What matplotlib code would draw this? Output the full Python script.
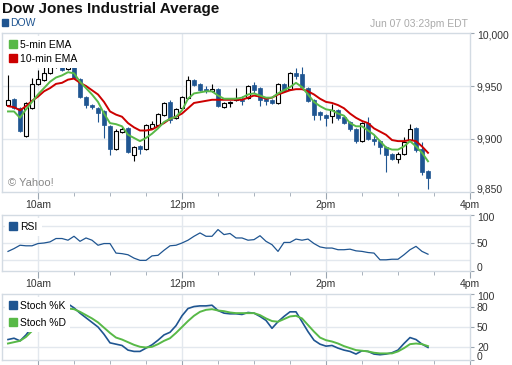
import numpy as np
import pandas as pd
import matplotlib
matplotlib.use("Agg")
import matplotlib.pyplot as plt
import matplotlib.transforms as mtransforms
from matplotlib.patches import Patch

plt.rcParams['font.family'] = ['Liberation Sans', 'DejaVu Sans']

# 5-minute bars, 09:35 .. 15:25
times = pd.date_range("2010-06-07 09:35", "2010-06-07 15:25", freq="5min")

opens = [9932, 9938, 9929, 9903, 9929, 9952, 9956, 9962, 9969, 9971,
         9966, 9970, 9957, 9940, 9932, 9929, 9926, 9912, 9891, 9907,
         9910, 9885, 9893, 9891, 9910, 9913, 9923, 9935, 9920, 9929,
         9939, 9956, 9952, 9947, 9945, 9947, 9930, 9934, 9937, 9937,
         9939, 9951, 9948, 9938, 9937, 9934, 9952, 9947, 9962, 9961,
         9948, 9937, 9925, 9923, 9922, 9927, 9921, 9916, 9909, 9898,
         9915, 9900, 9898, 9892, 9886, 9881, 9886, 9899, 9910, 9891, 9870]
highs = [9960, 9939, 9930, 9935, 9958, 9965, 9970, 9975, 9974, 9972,
         9972, 9971, 9958, 9941, 9933, 9930, 9927, 9913, 9909, 9912,
         9911, 9893, 9894, 9914, 9917, 9925, 9935, 9937, 9929, 9941,
         9959, 9957, 9953, 9950, 9952, 9948, 9935, 9936, 9948, 9941,
         9951, 9954, 9949, 9939, 9938, 9953, 9953, 9963, 9967, 9968,
         9949, 9938, 9926, 9924, 9933, 9928, 9922, 9917, 9910, 9916,
         9921, 9904, 9899, 9893, 9887, 9888, 9902, 9914, 9911, 9897, 9871]
lows = [9931, 9928, 9907, 9902, 9928, 9951, 9955, 9961, 9967, 9964,
        9965, 9957, 9939, 9929, 9928, 9916, 9901, 9885, 9890, 9906,
        9887, 9879, 9886, 9890, 9909, 9912, 9922, 9915, 9919, 9928,
        9938, 9950, 9945, 9943, 9944, 9930, 9929, 9930, 9936, 9932,
        9938, 9943, 9931, 9932, 9933, 9933, 9944, 9946, 9957, 9948,
        9935, 9918, 9918, 9912, 9915, 9918, 9914, 9908, 9896, 9897,
        9899, 9894, 9886, 9869, 9880, 9877, 9885, 9898, 9888, 9866, 9853]
closes = [9937, 9929, 9908, 9934, 9952, 9957, 9962, 9969, 9971, 9965,
          9970, 9958, 9940, 9932, 9930, 9925, 9913, 9891, 9908, 9909,
          9888, 9892, 9891, 9913, 9914, 9924, 9934, 9918, 9928, 9940,
          9956, 9951, 9946, 9945, 9947, 9931, 9934, 9935, 9939, 9936,
          9950, 9946, 9937, 9936, 9934, 9952, 9945, 9962, 9959, 9949,
          9936, 9923, 9923, 9920, 9927, 9920, 9915, 9909, 9898, 9915,
          9900, 9898, 9892, 9885, 9881, 9886, 9897, 9909, 9890, 9869, 9863]

ema5 = [9926, 9926, 9920, 9928, 9935, 9942, 9948, 9954, 9958, 9960,
        9963, 9962, 9954, 9948, 9942, 9935, 9924, 9915, 9914, 9912,
        9904, 9901, 9898, 9901, 9905, 9910, 9916, 9919, 9921, 9927,
        9938, 9943, 9944, 9945, 9945, 9941, 9938, 9938, 9938, 9939,
        9942, 9943, 9941, 9939, 9939, 9943, 9946, 9949, 9953, 9949,
        9942, 9935, 9931, 9928, 9927, 9924, 9922, 9915, 9912, 9912,
        9908, 9904, 9898, 9892, 9890, 9890, 9893, 9898, 9893, 9887, 9879]
ema10 = [9931, 9930, 9927, 9931, 9936, 9940, 9945, 9948, 9952, 9953,
         9956, 9957, 9953, 9950, 9946, 9942, 9935, 9926, 9923, 9921,
         9915, 9911, 9908, 9908, 9909, 9912, 9915, 9919, 9921, 9924,
         9929, 9934, 9935, 9936, 9937, 9937, 9937, 9937, 9937, 9937,
         9939, 9941, 9940, 9938, 9939, 9942, 9944, 9946, 9947, 9947,
         9945, 9942, 9938, 9935, 9934, 9932, 9929, 9924, 9920, 9917,
         9915, 9910, 9907, 9904, 9899, 9898, 9898, 9899, 9898, 9893, 9887]

rsi = [35, 40, 46, 45, 45, 49, 50, 52, 58, 58, 55, 62, 53, 59, 55, 46, 49, 49,
       32, 31, 29, 23, 19, 19, 27, 28, 37, 45, 46, 50, 55, 62, 68, 62, 62, 74,
       65, 67, 59, 59, 55, 56, 63, 53, 47, 35, 51, 51, 57, 55, 57, 49, 43, 41,
       41, 38, 38, 39, 36, 35, 33, 32, 20, 20, 21, 21, 29, 38, 44, 35, 30]

stoch_k = [31, 33, 29, 38, 50, 68, 80, 85, 87, 87, 85, 79, 71, 64, 57, 50, 39, 26,
           24, 22, 15, 13, 13, 18, 23, 30, 38, 42, 52, 67, 78, 81, 82, 82, 83, 75,
           71, 70, 70, 69, 72, 71, 66, 60, 48, 58, 66, 73, 73, 58, 43, 30, 24, 21,
           22, 18, 15, 13, 9, 14, 13, 9, 8, 9, 11, 15, 25, 34, 31, 24, 19]
stoch_d = [25, 27, 29, 35, 44, 48, 59, 68, 74, 78, 78, 77, 73, 68, 63, 57, 49, 41,
           34, 31, 27, 23, 20, 19, 20, 24, 29, 33, 41, 50, 59, 67, 73, 76, 77, 75,
           74, 72, 71, 71, 71, 71, 68, 63, 59, 58, 62, 66, 67, 63, 53, 43, 34, 30,
           28, 25, 21, 18, 15, 14, 13, 11, 10, 10, 10, 13, 18, 24, 25, 24, 21]

tick_pos = [30, 150, 270, 390]
tick_labels = ["10am", "12pm", "2pm", "4pm"]

BLUE = "#1f5591"
RED = "#cc0000"
GREEN = "#58b947"
GRID = "#e3e8ee"
FRAME = "#d3dbe3"
TXT = "#333333"

x = ((times - pd.Timestamp("2010-06-07 09:30")).total_seconds() / 60).values
o, h, l, c = map(np.array, (opens, highs, lows, closes))

fig = plt.figure(figsize=(5.12, 3.65), dpi=100)
W, H = 512, 365


def panel(top, bottom):
    return fig.add_axes([2 / W, 1 - bottom / H, 468 / W, (bottom - top) / H])


def style(ax, ylim, yticks, ylabels, grid_y, show_x=True):
    ax.set_xlim(0, 390)
    ax.set_ylim(*ylim)
    for s in ax.spines.values():
        s.set_color(FRAME)
        s.set_linewidth(1)
    ax.set_xticks(tick_pos)
    ax.set_xticks([60, 90, 120, 180, 210, 240, 300, 330, 360], minor=True)
    ax.set_xticklabels(tick_labels if show_x else [])
    ax.tick_params(axis='x', which='major', length=5, color="#9aa5b1", labelsize=7.5,
                   labelcolor=TXT, pad=0.5)
    ax.tick_params(axis='x', which='minor', length=3, color="#9aa5b1")
    ax.yaxis.tick_right()
    ax.set_yticks(yticks)
    ax.set_yticklabels(ylabels)
    ax.tick_params(axis='y', length=3, color="#9aa5b1", labelsize=7.5, labelcolor=TXT, pad=2)
    labs = ax.get_yticklabels()
    labs[0].set_va('baseline')
    labs[-1].set_va('top')
    labs[-1].set_transform(labs[-1].get_transform() +
                           mtransforms.ScaledTranslation(0, 1.5 / 72, fig.dpi_scale_trans))
    for v in [30, 150, 270]:
        ax.axvline(v, color=GRID, lw=1, zorder=0)
    for v in grid_y:
        ax.axhline(v, color=GRID, lw=1, zorder=0)


def add_legend(ax, handles, spacing):
    leg = ax.legend(handles=handles, loc="upper left", bbox_to_anchor=(0, 1),
                    borderaxespad=0.25, fontsize=7.5, handlelength=0.75, handleheight=0.75,
                    handletextpad=0.35, labelspacing=spacing, borderpad=0.4,
                    fancybox=False, framealpha=1, edgecolor="none")
    leg.set_zorder(6)
    return leg


# --- price panel ---
ax = panel(33, 192)
style(ax, (9850, 10000), [9850, 9900, 9950, 10000],
      ["9,850", "9,900", "9,950", "10,000"], [9900, 9950])
up = c >= o
ax.vlines(x[up], l[up], h[up], color="black", lw=0.8, zorder=2)
ax.vlines(x[~up], l[~up], h[~up], color=BLUE, lw=0.8, zorder=2)
ax.bar(x[up], c[up] - o[up], bottom=o[up], width=3.2, color="white",
       edgecolor="black", linewidth=0.8, zorder=3)
ax.bar(x[~up], o[~up] - c[~up], bottom=c[~up], width=3.4, color=BLUE,
       edgecolor=BLUE, linewidth=0.5, zorder=3)
ax.plot(x, ema10, color=RED, lw=1.4, zorder=4)
ax.plot(x, ema5, color=GREEN, lw=1.4, zorder=4)
add_legend(ax, [Patch(color=GREEN, label="5-min EMA"), Patch(color=RED, label="10-min EMA")], 0.4)
ax.text(0.012, 0.04, "© Yahoo!", transform=ax.transAxes, fontsize=8, color="#888888")

# --- RSI panel ---
ax2 = panel(215, 271)
style(ax2, (0, 100), [0, 50, 100], ["0", "50", "100"], [20, 50, 80])
ax2.plot(x, rsi, color=BLUE, lw=0.9)
add_legend(ax2, [Patch(color=BLUE, label="RSI")], 0.35)

# --- Stochastic panel ---
ax3 = panel(294, 360)
style(ax3, (0, 100), [0, 20, 50, 80, 100], ["0", "20", "50", "80", "100"], [20, 50, 80],
      show_x=False)
ax3.plot(x, stoch_k, color=BLUE, lw=1.2)
ax3.plot(x, stoch_d, color=GREEN, lw=1.4)
add_legend(ax3, [Patch(color=BLUE, label="Stoch %K"), Patch(color=GREEN, label="Stoch %D")], 0.65)

# --- header ---
fig.text(2 / W, 1 - 9 / H, "Dow Jones Industrial Average", fontsize=11, fontweight="bold",
         color="#111111", va="center", ha="left")
fig.patches.append(plt.Rectangle((2 / W, 1 - 26 / H), 6 / W, 7 / H, color=BLUE,
                                 transform=fig.transFigure, figure=fig))
fig.text(10 / W, 1 - 22.5 / H, "DOW", fontsize=7.5, color=BLUE, va="center", ha="left")
fig.text(468 / W, 1 - 24 / H, "Jun 07 03:23pm EDT", fontsize=7.5, color="#aaaaaa",
         va="center", ha="right")

fig.savefig("out.png", dpi=100)
